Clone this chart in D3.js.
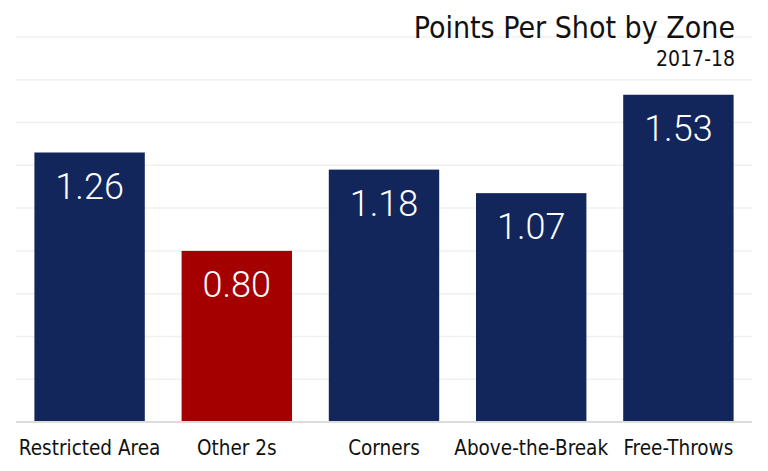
<!DOCTYPE html>
<html><head><meta charset="utf-8">
<script src="https://cdn.jsdelivr.net/npm/d3@7"></script>
<style>body{margin:0;background:#fff}</style>
</head><body>
<svg id="c" width="768" height="471"></svg>
<script>
const categories = ["Restricted Area","Other 2s","Corners","Above-the-Break","Free-Throws"];
const values = [1.26, 0.80, 1.18, 1.07, 1.53];
const colors = ["#13265c","#a50000","#13265c","#13265c","#13265c"];
const gridTicks = [0,0.2,0.4,0.6,0.8,1.0,1.2,1.4,1.6,1.8];
const title = "Points Per Shot by Zone";
const subtitle = "2017-18";

(function(){
const svg = d3.select("#c");
const mL = 16, mR = 752, mT = 37, mB = 422;
const x = d3.scaleBand().domain(categories).range([mL, mR]).paddingInner(0.25).paddingOuter(0.125);
const y = d3.scaleLinear().domain([0, 1.8]).range([mB, mT]);
const cond = "'DejaVu Sans Condensed','DejaVu Sans',sans-serif";

svg.append("g").selectAll("line").data(gridTicks).join("line")
  .attr("x1", mL).attr("x2", mR)
  .attr("y1", d => y(d)).attr("y2", d => y(d))
  .attr("stroke", d => d === 0 ? "#dcdcdc" : "#f0f0f0")
  .attr("stroke-width", d => d === 0 ? 2 : 1.5);

svg.append("g").selectAll("rect").data(values).join("rect")
  .attr("x", (d,i) => x(categories[i]))
  .attr("width", x.bandwidth())
  .attr("y", d => y(d))
  .attr("height", d => y(0) - y(d) - 1)
  .attr("fill", (d,i) => colors[i]);

svg.append("g").selectAll("text").data(values).join("text")
  .attr("x", (d,i) => x(categories[i]) + x.bandwidth()/2)
  .attr("y", d => y(d) + 46)
  .attr("text-anchor", "middle")
  .attr("fill", "#fff")
  .style("font-family", "Roboto,sans-serif")
  .style("font-weight", "300")
  .style("font-size", "36px")
  .text(d => d.toFixed(2));

svg.append("g").selectAll("text").data(categories).join("text")
  .attr("x", d => x(d) + x.bandwidth()/2)
  .attr("y", 455)
  .attr("text-anchor", "middle")
  .attr("fill", "#111")
  .style("font-family", cond)
  .style("font-size", "20.5px")
  .text(d => d);

svg.append("text").attr("x", 735).attr("y", 38).attr("text-anchor","end")
  .attr("fill","#111").style("font-family", cond).style("font-size","30px").text(title);
svg.append("text").attr("x", 735).attr("y", 66).attr("text-anchor","end")
  .attr("fill","#111").style("font-family", cond).style("font-size","21px").text(subtitle);
})();
</script>
</body></html>
